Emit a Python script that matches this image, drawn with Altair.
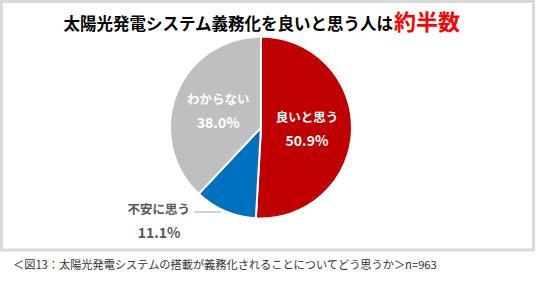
import altair as alt
import pandas as pd

# ---- data ----
categories = ["良いと思う", "不安に思う", "わからない"]
values = [50.9, 11.1, 38.0]
pct_labels = ["50.9%", "11.1%", "38.0%"]
colors = ["#C00000", "#0070C0", "#BFBFBF"]
inside = [True, False, True]

title_main = "太陽光発電システム義務化を良いと思う人は"
title_em = "約半数"
caption = "＜図13：太陽光発電システムの搭載が義務化されることについてどう思うか＞n=963"

FONT = "Noto Sans CJK JP"
CX, CY, R = 261, 127.5, 91

df = pd.DataFrame({
    "idx": list(range(len(categories))),
    "category": categories,
    "value": values,
    "pct": pct_labels,
    "in_name": [c if i else "" for c, i in zip(categories, inside)],
    "in_pct": [p if i else "" for p, i in zip(pct_labels, inside)],
    "out_name": [c if not i else "" for c, i in zip(categories, inside)],
    "out_pct": [p if not i else "" for p, i in zip(pct_labels, inside)],
})

base = alt.Chart(df).encode(
    theta=alt.Theta("value:Q", stack=True),
    order=alt.Order("idx:Q"),
    detail="category:N",
)

pie = base.mark_arc(outerRadius=R, stroke="white", strokeWidth=2).encode(
    color=alt.Color("category:N", scale=alt.Scale(domain=categories, range=colors), legend=None),
    x=alt.value(CX), y=alt.value(CY),
)

in_name = base.mark_text(radius=46, font=FONT, fontSize=12.5, fontWeight="bold",
                         color="white", dy=-11).encode(
    text="in_name:N", x=alt.value(CX), y=alt.value(CY))
in_pct = base.mark_text(radius=46, font=FONT, fontSize=14, fontWeight="bold",
                        color="white", dy=13).encode(
    text="in_pct:N", x=alt.value(CX), y=alt.value(CY))

out_name = base.mark_text(radius=R, font=FONT, fontSize=12.5, fontWeight="bold",
                          color="#595959", align="right", dx=-35, dy=-1).encode(
    text="out_name:N", x=alt.value(CX), y=alt.value(CY))
out_pct = base.mark_text(radius=R, font=FONT, fontSize=14, fontWeight="bold",
                         color="#595959", align="center", dx=-66, dy=23).encode(
    text="out_pct:N", x=alt.value(CX), y=alt.value(CY))

leader = alt.Chart(pd.DataFrame({"a": [0]})).mark_rule(color="#A6A6A6", strokeWidth=1).encode(
    x=alt.value(194), x2=alt.value(221), y=alt.value(212))

frame = alt.Chart(pd.DataFrame({"a": [0]})).mark_rect(
    fill="white", stroke="#D9D9D9", strokeWidth=3).encode(
    x=alt.value(1.5), x2=alt.value(533.5), y=alt.value(1.5), y2=alt.value(250))

t1 = alt.Chart(pd.DataFrame({"t": [title_main]})).mark_text(
    font=FONT, fontSize=16.5, fontWeight="bold", color="#000000", align="right",
    baseline="middle").encode(text="t:N", x=alt.value(393), y=alt.value(25))
t2 = alt.Chart(pd.DataFrame({"t": [title_em]})).mark_text(
    font=FONT, fontSize=22, fontWeight="bold", color="#FF0000", align="left",
    baseline="middle").encode(text="t:N", x=alt.value(394), y=alt.value(23))

cap = alt.Chart(pd.DataFrame({"t": [caption]})).mark_text(
    font=FONT, fontSize=11.2, color="#333333", align="left",
    baseline="middle").encode(text="t:N", x=alt.value(13), y=alt.value(266))

chart = alt.layer(frame, pie, leader, in_name, in_pct, out_name, out_pct, t1, t2, cap).properties(
    width=536, height=284, autosize=alt.AutoSizeParams(type="none"), padding=0,
    background="white",
).configure_view(stroke=None)

chart.save("out.html", embed_options={"renderer": "svg", "actions": False})
